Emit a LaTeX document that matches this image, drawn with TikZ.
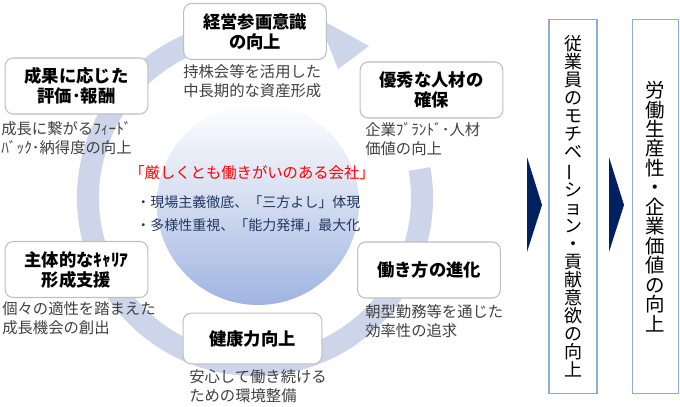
\documentclass[tikz,border=0pt]{standalone}
\usepackage{fontspec}
\setmainfont{Noto Sans CJK JP}
\usetikzlibrary{calc}
\definecolor{ringblue}{HTML}{CDD5EA}
\definecolor{discblue}{HTML}{9FB4E1}
\definecolor{discmid}{HTML}{D3DCF0}
\definecolor{chevnavy}{HTML}{002060}
\definecolor{frameblue}{HTML}{8EAADB}
\definecolor{boxgray}{HTML}{BFBFBF}
\definecolor{textgray}{HTML}{404040}
\definecolor{msgblue}{HTML}{203864}
\newcommand\tatebar{\rotatebox[origin=c]{90}{ー}}

\tikzset{
  theme/.style={draw=boxgray, fill=white, rounded corners=6pt, line width=0.8pt,
    minimum width=107pt, minimum height=42pt, align=center, inner sep=0pt,
    font=\fontsize{13}{15}\selectfont\bfseries},
  note/.style={anchor=north west, align=left, inner sep=0pt, text=textgray,
    font=\fontsize{11.5}{14.6}\selectfont},
  tate/.style={draw=frameblue, fill=white, line width=0.8pt, minimum width=36pt,
    minimum height=280pt, align=center, inner sep=0pt},
  chevron/.style={fill=chevnavy},
}

\begin{document}
\begin{tikzpicture}[x=0.75pt, y=-0.75pt]
\useasboundingbox (0,0) rectangle (680,406);
% ring arrow
\coordinate (rc) at (255,198);
\fill[ringblue] ($(rc)+(-10:178)$) arc[start angle=-10, end angle=294, radius=178]
  -- ($(rc)+(294:156)$) arc[start angle=294, end angle=-10, radius=156] -- cycle;
\fill[ringblue] (318,18) -- (369,46) -- (338,69) -- cycle;
% centre disc
\shade[top color=white, bottom color=discblue, middle color=discmid] (258,204) circle[radius=101];
\node[text=red, inner sep=0pt, font=\fontsize{11.5}{14}\selectfont] (motto) at (252,173) {「厳しくとも働きがいのある会社」};
\node[anchor=west, inner sep=0pt, text=msgblue, font=\fontsize{10.5}{13}\selectfont] (policy1) at (136,202) {・現場主義徹底、「三方よし」体現};
\node[anchor=west, inner sep=0pt, text=msgblue, font=\fontsize{10.5}{13}\selectfont] (policy2) at (136,225) {・多様性重視、「能力発揮」最大化};

% themes
\node[theme] (manage) at (255,31.5) {経営参画意識\\の向上};
\node[theme] (results) at (76.5,86) {成果に応じた\\評価･報酬};
\node[theme] (talent) at (431.5,90) {優秀な人材の\\確保};
\node[theme] (career) at (76.5,269.5) {主体的なｷｬﾘｱ\\形成支援};
\node[theme] (workstyle) at (429,270) {働き方の進化};
\node[theme, minimum width=104pt, minimum height=38pt] (health) at (252.5,338.5) {健康力向上};

\node[note] (manage-note) at (183,64) {持株会等を活用した\\中長期的な資産形成};
\node[note] (results-note) at (1,121) {成長に繋がるﾌｨｰﾄﾞ\\ﾊﾞｯｸ･納得度の向上};
\node[note] (talent-note) at (365,122) {企業ﾌﾞﾗﾝﾄﾞ･人材\\価値の向上};
\node[note] (career-note) at (2,301) {個々の適性を踏まえた\\成長機会の創出};
\node[note] (workstyle-note) at (365,304) {朝型勤務等を通じた\\効率性の追求};
\node[note] (health-note) at (189,369) {安心して働き続ける\\ための環境整備};

% outcomes
\fill[chevron] (527,157) -- (542,205) -- (527,252) -- cycle;
\fill[chevron] (609,157) -- (624,205) -- (609,252) -- cycle;
\node[tate, font=\fontsize{13.5}{13.5}\selectfont] (motivation) at (573,206.5)
  {従\\業\\員\\の\\モ\\チ\\ベ\\\tatebar\\シ\\ョ\\ン\\・\\貢\\献\\意\\欲\\の\\向\\上};
\node[tate, minimum width=35pt, font=\fontsize{14.6}{14.6}\selectfont] (value) at (655.5,206.5)
  {労\\働\\生\\産\\性\\・\\企\\業\\価\\値\\の\\向\\上};
\end{tikzpicture}
\end{document}
